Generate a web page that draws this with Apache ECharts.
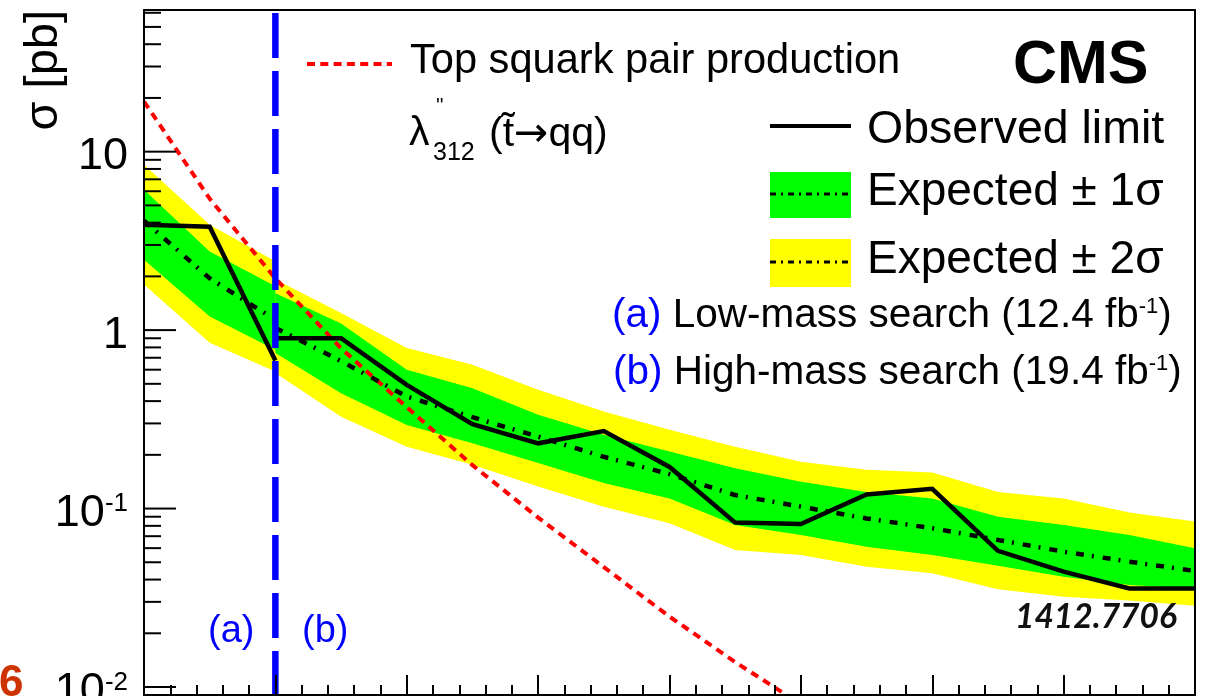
<!DOCTYPE html>
<html>
<head>
<meta charset="utf-8">
<script src="https://cdn.jsdelivr.net/npm/echarts@6/dist/echarts.min.js"></script>
<style>
  html, body { margin: 0; padding: 0; background: #fff; }
  #chart { width: 1214px; height: 696px; }
</style>
</head>
<body>
<div id="chart"></div>
<script>
// Top squark mass points (GeV) for the two searches
const massLow  = [200, 250, 300];
const massHigh = [300, 350, 400, 450, 500, 550, 600, 650, 700, 750, 800, 850, 900, 950, 1000];

// Observed 95% CL limits on sigma (pb)
const observedLow  = [3.9, 3.8, 0.675];
const observedHigh = [0.90, 0.90, 0.493, 0.297, 0.232, 0.272, 0.171, 0.0834, 0.082, 0.120, 0.129, 0.058, 0.0443, 0.0357, 0.0357];

// Expected limits (median)
const expectedLow  = [4.1, 1.95, 1.14];
const expectedHigh = [1.03, 0.67, 0.425, 0.325, 0.253, 0.195, 0.156, 0.119, 0.1025, 0.088, 0.0776, 0.0667, 0.0573, 0.0504, 0.0447];

// Expected +-1 sigma band
const plus1Low   = [6.12, 2.76, 1.76];
const minus1Low  = [2.48, 1.19, 0.776];
const plus1High  = [1.61, 1.09, 0.599, 0.473, 0.335, 0.259, 0.209, 0.168, 0.1415, 0.124, 0.114, 0.090, 0.081, 0.0711, 0.0599];
const minus1High = [0.745, 0.443, 0.294, 0.232, 0.180, 0.139, 0.114, 0.081, 0.071, 0.061, 0.055, 0.0478, 0.0415, 0.0373, 0.0355];

// Expected +-2 sigma band
const plus2Low   = [8.45, 3.9, 2.43];
const minus2Low  = [1.80, 0.85, 0.586];
const plus2High  = [1.92, 1.245, 0.793, 0.639, 0.463, 0.350, 0.276, 0.222, 0.183, 0.165, 0.159, 0.124, 0.114, 0.095, 0.0845];
const minus2High = [0.575, 0.327, 0.222, 0.176, 0.133, 0.1025, 0.0827, 0.0586, 0.055, 0.0472, 0.0434, 0.0353, 0.032, 0.0305, 0.0285];

// Top squark pair production cross section (pb)
const theoryMass = [200, 250, 300, 350, 400, 450, 500, 550, 600, 650, 700];
const theoryXsec = [19.1, 5.45, 1.95, 0.79, 0.37, 0.175, 0.089, 0.047, 0.0248, 0.0138, 0.0080];

// Boundary between low-mass and high-mass searches (GeV)
const searchBoundary = 300;

// Axis ranges
const xRange = [200, 1000];
const yRange = [0.00902, 62.2];

// Y tick values: decades get long ticks, 2..9 multiples get short ones
const yDecades = [0.01, 0.1, 1, 10];
const yMinorTicks = [];
yDecades.forEach(d => { for (let k = 2; k <= 9; k++) { const v = +(k * d).toPrecision(3); if (v <= yRange[1]) yMinorTicks.push(v); } });

const FONT = 'Liberation Sans, Arial, Helvetica, sans-serif';

function pairs(xs, ys) { return xs.map((x, i) => [x, ys[i]]); }

function bandSeries(name, color, segments) {
  return {
    type: 'custom', name, z: 1, silent: true, clip: true,
    data: [[xRange[0], 1]],
    renderItem(params, api) {
      const children = segments.map(seg => {
        const pts = [];
        seg.mass.forEach((m, i) => pts.push(api.coord([m, seg.up[i]])));
        for (let i = seg.mass.length - 1; i >= 0; i--) pts.push(api.coord([seg.mass[i], seg.lo[i]]));
        return { type: 'polygon', shape: { points: pts }, style: { fill: color } };
      });
      return { type: 'group', children };
    }
  };
}

const dashDot = [8, 8, 2, 9];
const lineBase = { type: 'line', symbol: 'none', silent: true, xAxisIndex: 0, yAxisIndex: 0 };

const series = [
  bandSeries('Expected ± 2σ', '#ffff00', [
    { mass: massLow, up: plus2Low, lo: minus2Low },
    { mass: massHigh, up: plus2High, lo: minus2High }
  ]),
  bandSeries('Expected ± 1σ', '#00ff00', [
    { mass: massLow, up: plus1Low, lo: minus1Low },
    { mass: massHigh, up: plus1High, lo: minus1High }
  ]),
  Object.assign({}, lineBase, {
    name: 'Top squark pair production', z: 2,
    data: pairs(theoryMass, theoryXsec),
    lineStyle: { color: '#ff0000', width: 4, type: [8, 6], cap: 'butt' }
  }),
  Object.assign({}, lineBase, {
    name: 'Expected low', z: 3,
    data: pairs(massLow, expectedLow),
    lineStyle: { color: '#000', width: 4.5, type: dashDot, cap: 'butt' }
  }),
  Object.assign({}, lineBase, {
    name: 'Expected high', z: 3,
    data: pairs(massHigh, expectedHigh),
    lineStyle: { color: '#000', width: 4.5, type: dashDot, cap: 'butt' }
  }),
  Object.assign({}, lineBase, {
    name: 'Observed low', z: 3,
    data: pairs(massLow, observedLow),
    lineStyle: { color: '#000', width: 4.5, join: 'miter' }
  }),
  Object.assign({}, lineBase, {
    name: 'Observed high', z: 3,
    data: pairs(massHigh, observedHigh),
    lineStyle: { color: '#000', width: 4.5, join: 'miter' }
  }),
  Object.assign({}, lineBase, {
    name: 'Search boundary', z: 4,
    data: [[searchBoundary, yRange[1]], [searchBoundary, yRange[0]]],
    lineStyle: { color: '#0000ff', width: 6.5, type: [45, 13], dashOffset: -3, cap: 'butt' }
  }),
  {
    type: 'custom', name: 'y ticks', z: 6, silent: true,
    data: yDecades.map(v => [xRange[0], v, 1]).concat(yMinorTicks.map(v => [xRange[0], v, 0])),
    renderItem(params, api) {
      const p = api.coord([xRange[0], api.value(1)]);
      const len = api.value(2) ? 32 : 17;
      return { type: 'line', shape: { x1: p[0], y1: p[1], x2: p[0] + len, y2: p[1] },
               style: { stroke: '#000', lineWidth: 2 } };
    }
  }
];

function yLabel(v) {
  const e = Math.log10(v);
  const r = Math.round(e);
  if (Math.abs(e - r) > 1e-6) return '';
  if (r === 0) return '1';
  if (r === 1) return '10';
  return '10{s|' + r + '}';
}

const frameAxis = { show: true, axisLine: { lineStyle: { color: '#000', width: 2 } }, axisTick: { show: false },
                    axisLabel: { show: false }, splitLine: { show: false }, z: 6 };

const graphics = [
  // axis title
  { type: 'text', x: 44, y: 10, rotation: Math.PI / 2, z: 10,
    style: { text: 'σ [pb]', fontSize: 47, fontFamily: FONT, fill: '#000', align: 'right', verticalAlign: 'middle' } },
  // CMS label
  { type: 'text', x: 1013, y: 66, z: 10,
    style: { text: 'CMS', fontSize: 61, fontWeight: 'bold', fontFamily: FONT, fill: '#000', align: 'left', verticalAlign: 'middle' } },
  // arXiv id
  { type: 'text', x: 1015, y: 617, z: 10,
    style: { text: '1412.7706', fontSize: 33.5, fontStyle: 'italic', fontWeight: 'bold', fontFamily: 'Lato, sans-serif', fill: '#111', align: 'left', verticalAlign: 'middle' } },
  // theory key
  { type: 'line', z: 10, shape: { x1: 307, y1: 64, x2: 392, y2: 64 },
    style: { stroke: '#ff0000', lineWidth: 4, lineDash: [8, 5.3] } },
  { type: 'text', x: 410, y: 62, z: 10,
    style: { text: 'Top squark pair production', fontSize: 41.6, fontFamily: FONT, fill: '#000', align: 'left', verticalAlign: 'middle' } },
  { type: 'text', x: 409, y: 134, z: 10,
    style: { text: 'λ', fontSize: 41, fontFamily: FONT, fill: '#000', align: 'left', verticalAlign: 'middle' } },
  { type: 'text', x: 436, y: 106, z: 10,
    style: { text: "''", fontSize: 20, fontFamily: FONT, fill: '#000', align: 'left', verticalAlign: 'middle' } },
  { type: 'text', x: 433, y: 153, z: 10,
    style: { text: '312', fontSize: 25, fontFamily: FONT, fill: '#000', align: 'left', verticalAlign: 'middle' } },
  { type: 'text', x: 489, y: 135, z: 10,
    style: { text: '(t\u0303{r|→}qq)', fontSize: 41, fontFamily: FONT, fill: '#000', align: 'left', verticalAlign: 'middle',
             rich: { r: { fontSize: 41, fontFamily: 'DejaVu Sans', fill: '#000' } } } },
  // observed key
  { type: 'line', z: 10, shape: { x1: 770, y1: 126, x2: 851, y2: 126 },
    style: { stroke: '#000', lineWidth: 4 } },
  { type: 'text', x: 867, y: 130, z: 10,
    style: { text: 'Observed limit', fontSize: 46.5, fontFamily: FONT, fill: '#000', align: 'left', verticalAlign: 'middle' } },
  // expected +-1 sigma key
  { type: 'rect', z: 10, shape: { x: 770, y: 172, width: 81, height: 46 }, style: { fill: '#00ff00' } },
  { type: 'line', z: 11, shape: { x1: 770, y1: 194, x2: 851, y2: 194 },
    style: { stroke: '#000', lineWidth: 3, lineDash: [6, 5, 2, 5] } },
  { type: 'text', x: 867, y: 192, z: 10,
    style: { text: 'Expected ± 1σ', fontSize: 46, fontFamily: FONT, fill: '#000', align: 'left', verticalAlign: 'middle' } },
  // expected +-2 sigma key
  { type: 'rect', z: 10, shape: { x: 770, y: 239, width: 81, height: 48 }, style: { fill: '#ffff00' } },
  { type: 'line', z: 11, shape: { x1: 770, y1: 262, x2: 851, y2: 262 },
    style: { stroke: '#000', lineWidth: 3, lineDash: [6, 5, 2, 5] } },
  { type: 'text', x: 867, y: 260, z: 10,
    style: { text: 'Expected ± 2σ', fontSize: 46, fontFamily: FONT, fill: '#000', align: 'left', verticalAlign: 'middle' } },
  // search descriptions
  { type: 'text', x: 612, y: 316, z: 10,
    style: { text: '{a|(a)} Low-mass search (12.4 fb{s|-1})', fontSize: 40.5, fontFamily: FONT, fill: '#000', align: 'left', verticalAlign: 'middle',
             rich: { a: { fill: '#0000ff', fontSize: 40.5, fontFamily: FONT }, s: { fontSize: 22, fontFamily: FONT, fill: '#000', verticalAlign: 'top' } } } },
  { type: 'text', x: 613, y: 373, z: 10,
    style: { text: '{a|(b)} High-mass search (19.4 fb{s|-1})', fontSize: 40.5, fontFamily: FONT, fill: '#000', align: 'left', verticalAlign: 'middle',
             rich: { a: { fill: '#0000ff', fontSize: 40.5, fontFamily: FONT }, s: { fontSize: 22, fontFamily: FONT, fill: '#000', verticalAlign: 'top' } } } },
  // region tags
  { type: 'text', x: 208, y: 632, z: 10,
    style: { text: '(a)', fontSize: 38, fontFamily: FONT, fill: '#0000ff', align: 'left', verticalAlign: 'middle' } },
  { type: 'text', x: 302, y: 632, z: 10,
    style: { text: '(b)', fontSize: 38, fontFamily: FONT, fill: '#0000ff', align: 'left', verticalAlign: 'middle' } },
  // page number
  { type: 'text', x: -1, y: 684, z: 10,
    style: { text: '6', fontSize: 44, fontWeight: 'bold', fontFamily: FONT, fill: '#cc3300', align: 'left', verticalAlign: 'middle' } }
];

const chart = echarts.init(document.getElementById('chart'), null, { renderer: 'canvas' });
chart.setOption({
  animation: false,
  backgroundColor: '#fff',
  grid: { left: 144, right: 19, top: 10, bottom: 1, show: false, containLabel: false, outerBoundsMode: 'none' },
  xAxis: [
    {
      type: 'value', min: xRange[0], max: xRange[1], interval: 100, position: 'bottom', z: 6,
      axisLine: { onZero: false, lineStyle: { color: '#000', width: 2 } },
      axisTick: { inside: true, length: 20, lineStyle: { color: '#000', width: 2 } },
      minorTick: { show: true, splitNumber: 5, length: 10, lineStyle: { color: '#000', width: 2 } },
      axisLabel: { show: false }, splitLine: { show: false }, minorSplitLine: { show: false }
    },
    Object.assign({ type: 'value', min: xRange[0], max: xRange[1], position: 'top' }, frameAxis)
  ],
  yAxis: [
    {
      type: 'log', logBase: 10, min: yRange[0], max: yRange[1], position: 'left', z: 6,
      axisLine: { onZero: false, lineStyle: { color: '#000', width: 2 } },
      axisTick: { show: false }, splitLine: { show: false }, minorTick: { show: false },
      axisLabel: {
        show: true, margin: 16, fontSize: 45, fontFamily: FONT, color: '#000', padding: [10, 0, 0, 0],
        formatter: yLabel,
        rich: { s: { fontSize: 26, fontFamily: FONT, color: '#000', verticalAlign: 'top' } }
      }
    },
    Object.assign({ type: 'log', logBase: 10, min: yRange[0], max: yRange[1], position: 'right' }, frameAxis)
  ],
  graphic: graphics,
  series
});
</script>
</body>
</html>
